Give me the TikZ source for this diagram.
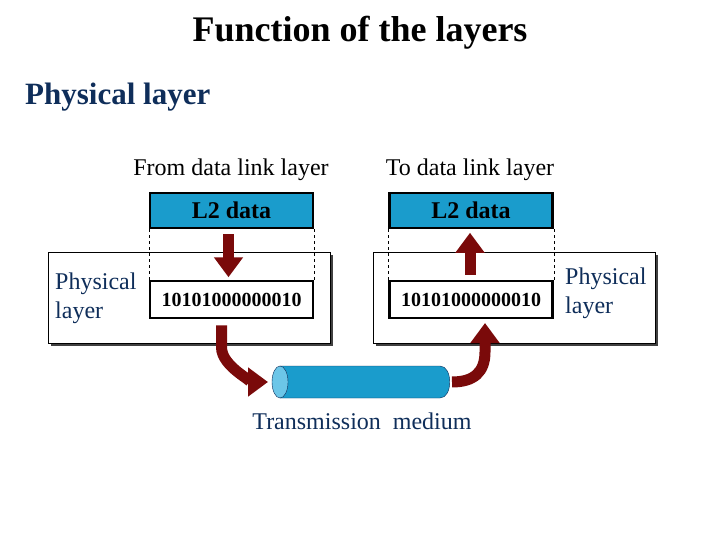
\documentclass[tikz,border=0pt]{standalone}
\usepackage{fontspec}
\setmainfont{Liberation Serif}
\usetikzlibrary{arrows.meta}
\definecolor{navy}{HTML}{0F2E5A}
\definecolor{pipe}{HTML}{1A9CCC}
\definecolor{pipeend}{HTML}{6CC6E8}
\definecolor{maroon}{HTML}{7A0A0A}
\begin{document}
\begin{tikzpicture}[x=1pt,y=-1pt]
  \tikzset{
    l2/.style={draw,line width=2.5pt,fill=pipe,minimum width=163pt,minimum height=35pt,font=\bfseries\fontsize{24}{24}\selectfont,inner sep=0pt},
    bits/.style={draw,line width=2.5pt,fill=white,minimum width=163pt,minimum height=37pt,font=\bfseries\fontsize{20}{20}\selectfont,inner sep=0pt},
    outer/.style={draw,fill=white,minimum width=282pt,minimum height=91pt,inner sep=0pt},
    shadow/.style={fill=black!75,minimum width=282pt,minimum height=91pt,inner sep=0pt},
    lbl/.style={font=\fontsize{24}{24}\selectfont},
    side/.style={font=\fontsize{24}{29}\selectfont,text=navy,align=left,inner sep=0pt},
    marr/.style={maroon,line width=11pt,-{Triangle[width=28pt,length=20pt]}},
    guide/.style={dashed,thin}
  }
  \useasboundingbox (0,0) rectangle (720,540);
  % titles
  \node[font=\bfseries\fontsize{36}{36}\selectfont] (title) at (360,33) {Function of the layers};
  \node[font=\bfseries\fontsize{31}{31}\selectfont,text=navy,anchor=west,inner sep=0pt] (phys) at (25,97) {Physical layer};
  \node[lbl] (from) at (231,170) {From data link layer};
  \node[lbl] (to) at (470,170) {To data link layer};
  % outer boxes with shadow
  \node[shadow] at (192,300) {};
  \node[outer] (ol) at (189,297.5) {};
  \node[shadow] at (517,300) {};
  \node[outer] (or) at (514,297.5) {};
  % L2 data boxes
  \node[l2] (l2a) at (231.5,210.5) {L2 data};
  \node[l2] (l2b) at (471,210.5) {L2 data};
  % bit boxes
  \node[bits] (ba) at (231.5,299.5) {10101000000010};
  \node[bits] (bb) at (471,299.5) {10101000000010};
  % dashed guides
  \draw[guide] (l2a.south west) -- (ba.north west);
  \draw[guide] (l2a.south east) -- (ba.north east);
  \draw[guide] (l2b.south west) -- (bb.north west);
  \draw[guide] (l2b.south east) -- (bb.north east);
  % side labels
  \node[side,anchor=west] (sl) at (55,298) {Physical\\layer};
  \node[side,anchor=west] (sr) at (565,293) {Physical\\layer};
  % straight arrows
  \draw[marr] (l2a.south) ++(-3,5) -- ++(0,43);
  \draw[marr] (bb.north) ++(-1,-5) -- ++(0,-42);
  % transmission medium
  \fill[pipe,draw=navy] (280,366) -- (440,366) .. controls (453,366) and (453,398) .. (440,398) -- (280,398) -- cycle;
  \draw[fill=pipeend,draw=navy] (280,382) ellipse[x radius=8,y radius=16];
  \coordinate (pl) at (268,382);
  \coordinate (pr) at (452,382);
  \node[lbl,text=navy] (tm) at (362,421) {Transmission\ \ medium};
  % curved arrows
  \draw[marr] (ba.south) ++(-10,6) -- ++(0,22) .. controls +(0,20) and +(-12,0) .. (pl);
  \draw[marr] (pr) .. controls (474,382) and (485,372) .. (485,352) -- (485,323);
\end{tikzpicture}
\end{document}
